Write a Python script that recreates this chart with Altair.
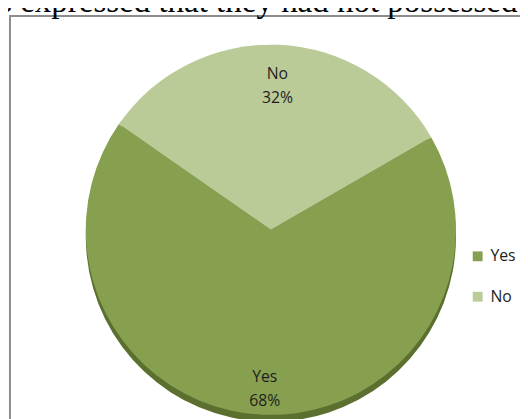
import math
import altair as alt
import pandas as pd

# ---- data ----
header_text = ["s expressed that they had not possessed a"]
categories = ["Yes", "No"]
values = [68, 32]
colors = ["#87A04F", "#BACB97"]
label_texts = [f"{c}\n{v}%" for c, v in zip(categories, values)]

df = pd.DataFrame({"category": categories, "value": values, "label": label_texts})
hdr = pd.DataFrame({"t": header_text})
frame_df = pd.DataFrame({"k": [0]})

LABEL_FONT = "Open Sans"
CX, CY, R = 267, 222, 188
start = math.radians(60)
theta_scale = alt.Scale(domain=[0, 100], range=[start, start + 2 * math.pi])

theta = alt.Theta("value:Q", stack=True, scale=theta_scale)
order = alt.Order("category:N", sort="descending")

shadow = alt.Chart(df).mark_arc(outerRadius=R, color="#5B702F").encode(
    theta=theta, order=order, x=alt.value(CX), y=alt.value(CY + 7)
)

pie = alt.Chart(df).mark_arc(outerRadius=R).encode(
    theta=theta,
    order=order,
    x=alt.value(CX),
    y=alt.value(CY),
    color=alt.Color(
        "category:N",
        scale=alt.Scale(domain=categories, range=colors),
        legend=alt.Legend(
            title=None,
            orient="none",
            legendX=469,
            legendY=241,
            symbolType="square",
            symbolSize=100,
            symbolStrokeWidth=0,
            labelFont=LABEL_FONT,
            labelFontSize=16,
            labelColor="#222222",
            labelOffset=5,
            rowPadding=25,
            padding=0,
        ),
    ),
)

lab_base = (
    alt.Chart(df)
    .transform_window(
        cum="sum(value)",
        sort=[alt.SortField("category", order="descending")],
        frame=[None, 0],
    )
    .transform_calculate(mid="datum.cum - datum.value / 2")
)


def label_layer(cat, radius):
    return (
        lab_base.transform_filter(alt.datum.category == cat)
        .mark_text(
            radius=radius,
            lineBreak="\n",
            font=LABEL_FONT,
            fontSize=16,
            lineHeight=24,
            color="#1E1E1E",
            baseline="middle",
            align="center",
        )
        .encode(
            theta=alt.Theta("mid:Q", stack=None, scale=theta_scale),
            x=alt.value(CX),
            y=alt.value(CY),
            text="label:N",
        )
    )


lab_yes = label_layer("Yes", 150)
lab_no = label_layer("No", 158)

border = alt.Chart(frame_df).mark_rect(
    filled=False, stroke="#8C8C8C", strokeWidth=2
).encode(x=alt.value(2), x2=alt.value(700), y=alt.value(5), y2=alt.value(700))

header = alt.Chart(hdr).mark_text(
    font="Liberation Serif",
    fontSize=33.5,
    align="left",
    baseline="alphabetic",
    color="#000000",
).encode(x=alt.value(-9), y=alt.value(1), text="t:N")

chart = (
    alt.layer(border, header, shadow, pie, lab_yes, lab_no)
    .properties(width=520, height=411, autosize="none", padding=0)
    .configure_view(stroke=None)
)

chart.save("out.html", embed_options={"renderer": "svg", "actions": False})
